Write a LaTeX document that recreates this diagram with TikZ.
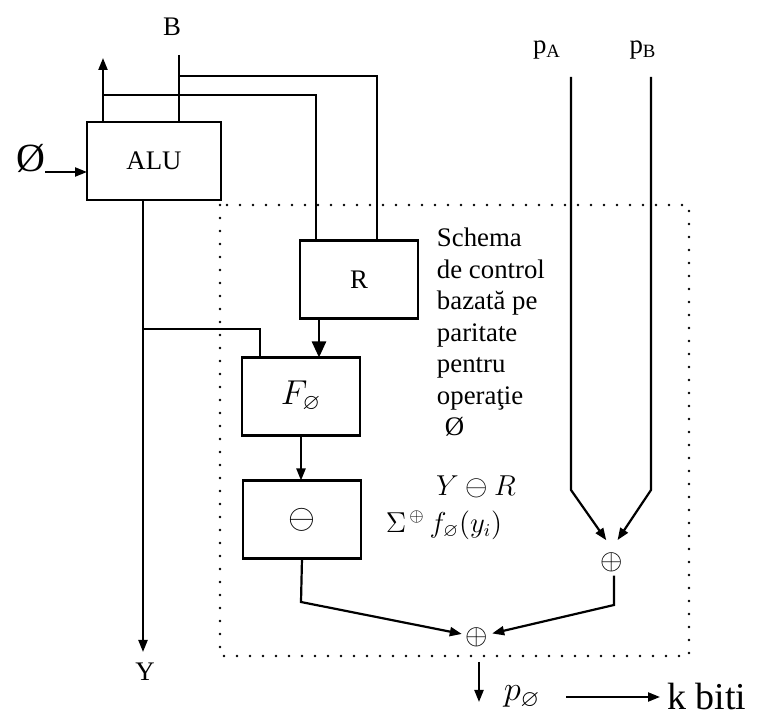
\documentclass[tikz,border=0pt]{standalone}
\usepackage{amsmath,amssymb}
\usepackage{fontspec}
\setmainfont{Liberation Serif}
\usetikzlibrary{arrows.meta,positioning,calc}

\begin{document}
\begin{tikzpicture}[x=0.5pt,y=-0.5pt,
  every node/.style={inner sep=0pt,outer sep=0pt,font=\fontsize{13.4}{15.75}\selectfont},
  blk/.style={draw,line width=1.3pt,minimum width=59pt,minimum height=39pt},
  bigfont/.style={font=\fontsize{16}{16}\selectfont},
  wire/.style={line width=1.1pt},
  arr/.style={line width=1.1pt,-{Triangle[length=6pt,width=4.5pt]}},
  bigarr/.style={line width=1.2pt,-{Triangle[length=8pt,width=7pt]}},
  dotbox/.style={line width=1.4pt,dash pattern=on 0pt off 6.5pt,line cap=round},
  xnode/.style={inner sep=2pt},
]
\useasboundingbox (0,0) rectangle (757,717);

% the blocks
\node[blk,minimum width=67pt] (alu) at (154,161) {ALU};
\node[blk] (reg) at (359,279.5) {R};
\node[blk,bigfont] (fo) at (301,396.5) {$F_{\varnothing}$};
\node[blk,bigfont] (xo) at (302,519.5) {$\ominus$};

% the xor points
\node[xnode] (xab) at (612,562) {$\oplus$};
\node[xnode] (xout) at (477,637) {$\oplus$};

% the labels
\node (lb) at (172,27) {B};
\node[font=\fontsize{20}{20}\selectfont] (lphi) at (31,158) {Ø};
\node (ly) at (145,672) {Y};
\node (lpa) at (547,50) {p\textsubscript{A}};
\node (lpb) at (643,50) {p\textsubscript{B}};
\node[font=\fontsize{17}{17}\selectfont] (lpo) at (522,697) {$p_{\varnothing}$};
\node[anchor=west,font=\fontsize{19}{19}\selectfont] (lk) at (667,697) {k biti};
\node[anchor=north west,align=left] (txt) at (437,228)
  {Schema\\de control\\bazată pe\\paritate\\pentru\\operaţie\\\hspace{4pt}Ø};
\node (lyr) at (476,487) {$Y\ominus R$};
\node (lsum) at (444,525) {$\Sigma^{\,\oplus}\, f_{\varnothing}\!\left(y_i\right)$};

% free ends and corners
\coordinate (up) at (103,58);
\coordinate (j1) at (103,95);
\coordinate (bt) at (179,55);
\coordinate (j2) at (179,76);
\coordinate (phin) at (45,172);
\coordinate (yend) at (143,652);
\coordinate (j3) at (143,329);
\coordinate (c1) at (301,602);
\coordinate (c2) at (614,605);
\coordinate (pa) at (571,77);
\coordinate (ka) at (571,490);
\coordinate (pb) at (651,77);
\coordinate (kb) at (651,490);
\coordinate (d1) at (479,662);
\coordinate (d2) at (479,702);

% the control area
\draw[dotbox] (220,205) rectangle (689,656);

% the wires round the ALU
\draw[arr] (alu.north -| up) -- (up);
\draw[wire] (bt) -- (alu.north -| bt);
\draw[wire] (j1) -| ([xshift=-21.5pt]reg.north);
\draw[wire] (j2) -| ([xshift=9pt]reg.north);
\draw[arr] (phin) -- (alu.west |- phin);
\draw[arr] (alu.south -| yend) -- (yend);
\draw[wire] (j3) -| ([xshift=-20.5pt]fo.north);

% the chain of blocks
\draw[bigarr] ([xshift=-20pt]reg.south) -- ([xshift=-20pt]reg.south |- fo.north);
\draw[arr] (fo.south) -- (fo.south |- xo.north);
\draw[arr] (xo.south) -- (c1) -- (xout);

% the parity inputs
\draw[arr,shorten >=5pt] (pa) -- (ka) -- (xab.north);
\draw[arr,shorten >=5pt] (pb) -- (kb) -- (xab.north);
\draw[arr] (xab.south -| c2) -- (c2) -- (xout);

% the output
\draw[arr] (d1) -- (d2);
\draw[arr,shorten >=3.5pt] ([xshift=13pt]lpo.east) -- (lk.west);
\end{tikzpicture}
\end{document}
